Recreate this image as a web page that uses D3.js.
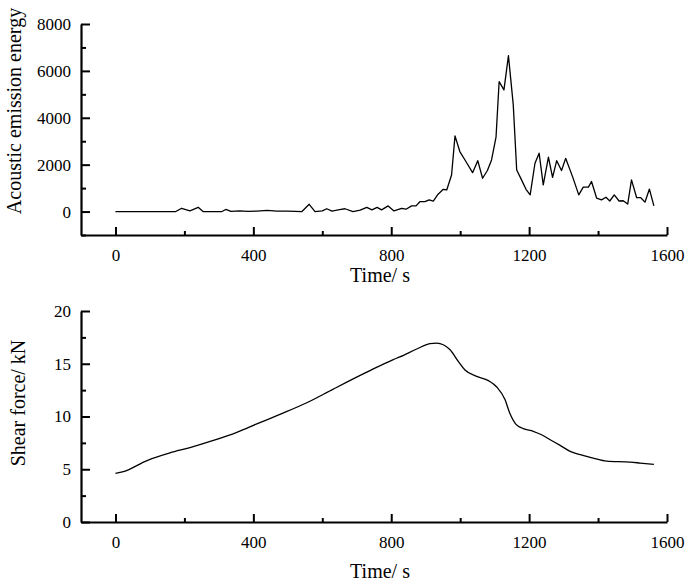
<!DOCTYPE html>
<html>
<head>
<meta charset="utf-8">
<script src="https://cdn.jsdelivr.net/npm/d3@7"></script>
<style>
  body { margin: 0; background: #fff; }
  svg text { font-family: "Liberation Serif", "Times New Roman", serif; fill: #000; }
</style>
</head>
<body>
<script>
// ------------  DATA  ------------
const aeTime = [0,175,192,216,240,254,309,320,335,360,385,410,440,468,500,541,562,579,600,613,628,650,666,689,710,729,744,759,772,791,808,830,843,859,872,883,898,910,922,936,951,961,975,985,999,1014,1036,1051,1065,1079,1091,1104,1113,1127,1140,1154,1164,1178,1191,1203,1217,1229,1241,1256,1268,1280,1294,1306,1326,1344,1357,1372,1381,1396,1410,1423,1434,1447,1461,1473,1486,1497,1512,1524,1536,1549,1562];
const aeEnergy = [0,0,140,30,180,0,0,90,10,30,10,20,50,20,20,0,310,0,30,120,20,80,120,0,60,180,70,180,70,240,25,140,100,240,240,420,420,500,450,740,950,920,1560,3230,2560,2200,1660,2170,1420,1750,2200,3170,5540,5190,6650,4550,1770,1350,950,710,2060,2490,1140,2320,1460,2170,1750,2270,1490,710,1040,1040,1280,570,500,610,450,710,450,460,320,1350,590,590,400,960,240];

const sfTime = [0,23,90,158,216,284,352,410,477,555,632,729,806,825,874,912,932,970,995,1014,1048,1082,1106,1130,1144,1162,1183,1212,1236,1261,1290,1319,1348,1386,1425,1493,1522,1562];
const sfForce = [4.6,4.77,5.8,6.55,7.05,7.73,8.5,9.3,10.2,11.3,12.6,14.2,15.4,15.65,16.4,16.9,16.96,16.35,15.2,14.4,13.8,13.4,12.8,11.6,10.3,9.25,8.85,8.6,8.27,7.8,7.26,6.7,6.38,6.06,5.77,5.68,5.59,5.46];

const xMajor = [0,400,800,1200,1600];
const xMinor = [200,600,1000,1400];
const aeMajor = [0,2000,4000,6000,8000];
const aeMinor = [-1000,1000,3000,5000,7000];
const sfMajor = [0,5,10,15,20];
const sfMinor = [2.5,7.5,12.5,17.5];

// ------------  PARAMETERS  ------------
const W = 685, H = 581;
const left = 81, right = 667;
const fmt = d3.format("d");

const svg = d3.select("body").append("svg").attr("width", W).attr("height", H);

function panel(opt) {
  const x = d3.scaleLinear().domain([-100, 1600]).range([left, right]);
  const y = d3.scaleLinear().domain(opt.yDomain).range([opt.bottom, opt.top]);
  const g = svg.append("g");

  // minor ticks
  g.append("g").attr("transform", "translate(0," + opt.bottom + ")")
    .call(d3.axisBottom(x).tickValues(xMinor).tickSize(-4).tickFormat(""))
    .call(a => a.select(".domain").remove());
  g.append("g").attr("transform", "translate(" + left + ",0)")
    .call(d3.axisLeft(y).tickValues(opt.yMinor).tickSize(-5).tickFormat(""))
    .call(a => a.select(".domain").remove());

  // major ticks + domain
  const xa = g.append("g").attr("transform", "translate(0," + opt.bottom + ")")
    .call(d3.axisBottom(x).tickValues(xMajor).tickFormat(fmt).tickSizeInner(-8).tickSizeOuter(0).tickPadding(14));
  const ya = g.append("g").attr("transform", "translate(" + left + ",0)")
    .call(d3.axisLeft(y).tickValues(opt.yMajor).tickFormat(fmt).tickSizeInner(-9).tickSizeOuter(0).tickPadding(10));

  g.selectAll("g").attr("font-family", null).attr("font-size", null);
  g.selectAll(".domain").attr("stroke-width", 2.2).attr("stroke", "#000");
  g.selectAll(".tick line").attr("stroke-width", 2).attr("stroke", "#000");
  g.selectAll(".tick text").attr("font-size", 17);
  ya.selectAll(".tick text").attr("x", -10);

  // line
  const line = d3.line().x(d => x(d[0])).y(d => y(d[1])).curve(opt.curve);
  g.append("path")
    .datum(opt.t.map((t, i) => [t, opt.v[i]]))
    .attr("d", line)
    .attr("fill", "none")
    .attr("stroke", "#000")
    .attr("stroke-width", 1.3)
    .attr("stroke-linejoin", "round");

  // titles
  g.append("text")
    .attr("x", (left + right) / 2 + 6).attr("y", opt.xTitleY)
    .attr("text-anchor", "middle").attr("font-size", 20)
    .text("Time/ s");
  g.append("text")
    .attr("transform", "translate(" + opt.yTitleX + "," + opt.yTitleY + ") rotate(-90)")
    .attr("text-anchor", "middle").attr("font-size", 20)
    .text(opt.yTitle);
}

panel({
  top: 24, bottom: 235, yDomain: [-1000, 8000],
  yMajor: aeMajor, yMinor: aeMinor,
  t: aeTime, v: aeEnergy, curve: d3.curveLinear,
  xTitleY: 282, yTitleX: 21, yTitleY: 111,
  yTitle: "Acoustic emission energy"
});

panel({
  top: 311, bottom: 522, yDomain: [0, 20],
  yMajor: sfMajor, yMinor: sfMinor,
  t: sfTime, v: sfForce, curve: d3.curveMonotoneX,
  xTitleY: 578, yTitleX: 25, yTitleY: 403,
  yTitle: "Shear force/ kN"
});
</script>
</body>
</html>
